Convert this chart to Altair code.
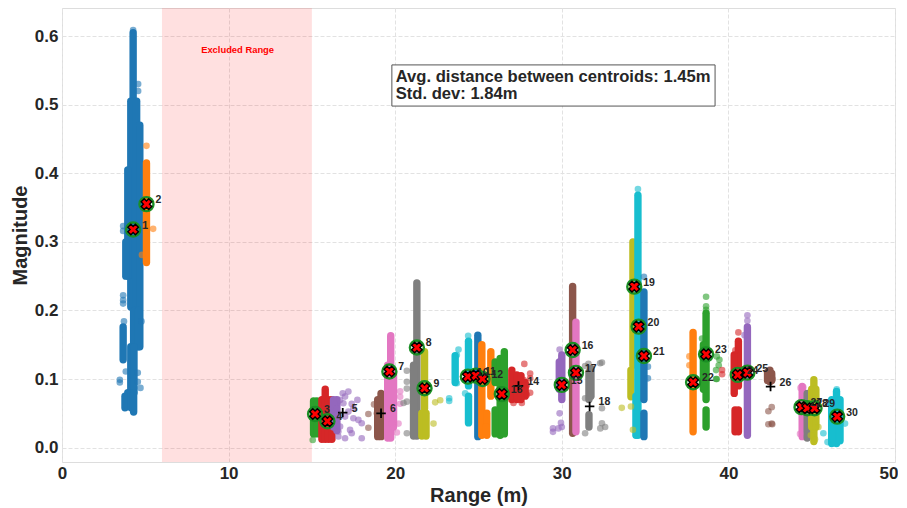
import altair as alt
import pandas as pd

palette = ["#1f77b4", "#ff7f0e", "#2ca02c", "#d62728", "#9467bd",
           "#8c564b", "#e377c2", "#7f7f7f", "#bcbd22", "#17becf"]

# dense vertical runs of points: (cluster, range, low magnitude, high magnitude)
segments = [
    (1, 4.27, .50, .605), (1, 4.13, .205, .505), (1, 4.30, .147, .505), (1, 4.48, .147, .505),
    (1, 4.67, .147, .47), (1, 3.95, .25, .405), (1, 3.83, .25, .30), (1, 4.35, .147, .20),
    (1, 4.59, .147, .20), (1, 3.67, .128, .176), (1, 4.13, .08, .147), (1, 4.32, .08, .147),
    (1, 3.78, .058, .075), (1, 3.95, .06, .08), (1, 4.15, .058, .08), (1, 4.30, .052, .08),
    (2, 5.07, .27, .415),
    (3, 15.1, .02, .068), (3, 15.3, .02, .068),
    (4, 15.6, .012, .07), (4, 15.8, .012, .085), (4, 16.0, .012, .07), (4, 16.2, .012, .07),
    (5, 16.5, .025, .07), (5, 16.3, .03, .07),
    (6, 19.15, .016, .079), (6, 18.95, .016, .07),
    (7, 19.73, .014, .163), (7, 19.55, .014, .12), (7, 19.9, .03, .11),
    (8, 21.3, .017, .24), (8, 21.1, .017, .12),
    (9, 21.76, .0574, .14), (9, 21.6, .017, .05), (9, 21.85, .017, .05),
    (10, 24.4, .09, .155), (10, 24.4, .036, .075), (10, 23.6, .095, .134),
    (11, 24.96, .016, .164),
    (12, 25.2, .018, .15), (12, 25.74, .075, .14), (12, 25.5, .018, .05), (12, 25.45, .02, .03),
    (13, 26.0, .095, .125), (13, 26.3, .018, .13), (13, 26.55, .02, .14), (13, 26.0, .02, .055),
    (14, 27.0, .07, .113), (14, 27.3, .07, .106), (14, 27.55, .07, .105), (14, 27.8, .075, .095),
    (15, 30.0, .07, .135), (15, 29.85, .085, .125),
    (16, 30.65, .021, .235),
    (17, 30.85, .023, .183),
    (18, 31.63, .03, .048), (18, 31.63, .07, .11), (18, 31.75, .075, .115),
    (19, 34.27, .12, .30), (19, 34.15, .074, .113),
    (20, 34.57, .018, .368), (20, 34.45, .018, .075),
    (21, 34.93, .07, .227), (21, 34.93, .016, .05),
    (22, 37.88, .023, .168),
    (23, 38.66, .07, .196), (23, 38.66, .03, .055), (23, 38.5, .085, .15),
    (24, 40.6, .09, .155), (24, 40.35, .079, .135), (24, 40.4, .023, .055), (24, 40.6, .023, .055),
    (25, 41.14, .018, .176),
    (26, 42.49, .096, .113), (26, 42.35, .098, .11), (26, 42.6, .098, .108),
    (27, 44.43, .016, .089),
    (28, 44.73, .014, .079),
    (29, 45.13, .009, .099), (29, 45.0, .03, .085), (29, 45.25, .03, .085),
    (30, 46.49, .006, .082), (30, 46.2, .006, .07), (30, 46.7, .01, .07),
]

# individual stray points: (cluster, range, magnitude)
strays = [
    (1, 3.67, .323), (1, 3.67, .316), (1, 3.67, .222), (1, 3.67, .215), (1, 3.67, .21), (1, 3.72, .184),
    (1, 3.47, .099), (1, 3.47, .095), (1, 4.77, .184), (1, 4.55, .109), (1, 4.55, .096), (1, 4.71, .087),
    (1, 3.83, .111), (1, 4.57, .53), (1, 4.57, .52), (1, 4.27, .609),
    (2, 5.07, .44), (2, 5.47, .319), (2, 4.8, .281),
    (3, 15.05, .011),
    (5, 17.19, .0817), (5, 16.85, .0792), (5, 16.99, .0744), (5, 16.69, .0695), (5, 17.73, .0695),
    (5, 17.39, .0637), (5, 16.89, .0647), (5, 16.49, .0574), (5, 16.99, .0452), (5, 17.49, .0428),
    (5, 17.79, .0404), (5, 17.99, .0355), (5, 16.59, .0234), (5, 17.29, .0258), (5, 17.39, .0209),
    (5, 16.99, .0136), (5, 16.59, .0161), (5, 17.99, .0136), (5, 17.49, .0574), (5, 17.19, .0525),
    (5, 16.39, .0355), (5, 16.69, .0307),
    (6, 18.39, .049), (6, 18.39, .029), (6, 18.73, .063), (6, 18.9, .05),
    (7, 20.3, .082), (7, 20.3, .074), (7, 20.3, .064), (7, 20.2, .035), (7, 20.1, .022), (7, 19.8, .035),
    (8, 20.7, .112), (8, 20.7, .096), (8, 20.7, .086), (8, 20.7, .067), (8, 20.5, .065), (8, 20.7, .021),
    (9, 22.4, .066), (9, 22.7, .069), (9, 22.3, .035),
    (10, 23.24, .072), (10, 23.24, .068), (10, 24.38, .163), (10, 23.8, .143), (10, 23.7, .135),
    (10, 23.7, .094), (10, 24.2, .079),
    (14, 27.75, .122), (14, 28.1, .108), (14, 28.1, .08), (14, 27.9, .077), (14, 27.6, .065), (14, 27.1, .065),
    (14, 28.1, .101), (14, 27.9, .091), (14, 27.7, .099),
    (15, 29.87, .143), (15, 29.87, .05), (15, 29.95, .036), (15, 30.0, .03), (15, 29.47, .028), (15, 29.47, .023),
    (15, 29.8, .028),
    (18, 31.4, .119), (18, 31.6, .122), (18, 31.4, .072), (18, 31.4, .021), (18, 32.3, .123), (18, 32.41, .124),
    (18, 32.41, .0574), (18, 32.41, .0355), (18, 32.6, .03), (18, 32.31, .028),
    (19, 33.6, .058), (19, 34.15, .06), (19, 34.27, .026),
    (20, 34.57, .377),
    (21, 34.93, .249), (21, 35.17, .118), (21, 35.17, .101),
    (22, 37.66, .133), (22, 37.66, .12),
    (23, 38.66, .22), (23, 38.66, .206), (23, 38.66, .201), (23, 38.42, .159), (23, 39.3, .133),
    (23, 39.46, .128), (23, 39.42, .12), (23, 39.26, .113), (23, 39.26, .1), (23, 39.3, .1),
    (24, 40.6, .168), (24, 40.42, .142), (24, 39.62, .113), (24, 39.62, .107),
    (25, 41.14, .193), (25, 41.14, .185), (25, 40.97, .164),
    (26, 42.4, .053), (26, 42.6, .059), (26, 42.4, .034), (26, 42.6, .035), (26, 42.63, .034),
    (26, 42.35, .105), (26, 42.65, .1),
    (27, 44.33, .087), (27, 44.5, .088), (27, 44.3, .02),
    (29, 45.4, .03), (29, 44.95, .018), (29, 45.2, .012),
    (30, 47.0, .035), (30, 45.95, .008), (30, 45.7, .021), (30, 46.5, .085),
]

centroid_id = list(range(1, 31))
centroid_x = [4.27, 5.07, 15.19, 15.93, 16.85, 19.15, 19.65, 21.3, 21.76, 24.36,
              24.84, 25.24, 26.4, 27.4, 30.0, 30.65, 30.85, 31.67, 34.35, 34.61,
              34.93, 37.88, 38.66, 40.56, 41.14, 42.53, 44.39, 44.73, 45.17, 46.53]
centroid_y = [.318, .355, .049, .0384, .051, .05, .111, .146, .0865, .1035,
              .105, .1, .078, .09, .0914, .1424, .109, .06, .2347, .1764,
              .1336, .0953, .136, .106, .1093, .089, .059, .0574, .0574, .0452]
centroid_kept = [True, True, True, True, False, False, True, True, True, True,
                 True, True, True, False, True, True, True, False, True, True,
                 True, True, True, True, True, False, True, True, True, True]

stat_lines = ["Avg. distance between centroids: 1.45m", "Std. dev: 1.84m"]
stat_y = [.540, .515]

FONT = "Liberation Sans"
INK = "#262626"

seg_df = pd.DataFrame(segments, columns=["c", "x", "lo", "hi"])
seg_df["col"] = (seg_df["c"] - 1) % 10
stray_df = pd.DataFrame(strays, columns=["c", "x", "y"])
stray_df["col"] = (stray_df["c"] - 1) % 10
cen = pd.DataFrame({"id": centroid_id, "x": centroid_x, "y": centroid_y, "kept": centroid_kept})
cen["label"] = cen["id"].astype(str)

xs = alt.Scale(domain=[0, 50], nice=False, zero=False)
ys = alt.Scale(domain=[-0.021, 0.641], nice=False, zero=False)
cs = alt.Scale(domain=list(range(10)), range=palette)

x_axis = alt.Axis(title="Range (m)", values=[0, 10, 20, 30, 40, 50], format="d", grid=True, ticks=False,
                  labelFont=FONT, labelFontWeight="bold", labelFontSize=17, labelColor=INK, labelPadding=3,
                  labelFlush=False,
                  labelAlign={"condition": {"test": "datum.value == 50", "value": "right"}, "value": "center"},
                  labelOffset={"condition": {"test": "datum.value == 50", "value": 3}, "value": 0},
                  titleFont=FONT, titleFontWeight="bold", titleFontSize=20, titleColor=INK, titlePadding=4,
                  gridColor="#e2e2e2", gridDash=[4, 2], gridWidth=1, domain=False)
y_axis = alt.Axis(title="Magnitude", values=[0, .1, .2, .3, .4, .5, .6], format=".1f", grid=True, ticks=False,
                  labelFont=FONT, labelFontWeight="bold", labelFontSize=17, labelColor=INK, labelPadding=4,
                  titleFont=FONT, titleFontWeight="bold", titleFontSize=20, titleColor=INK, titlePadding=4,
                  gridColor="#e2e2e2", gridDash=[4, 2], gridWidth=1, domain=False)

band = alt.Chart(pd.DataFrame({"a": [6], "b": [15]})).mark_rect(color="#ff0000", opacity=0.12).encode(
    x=alt.X("a:Q", scale=xs, axis=x_axis), x2="b:Q")

band_text = alt.Chart(pd.DataFrame({"x": [10.54], "y": [.58], "t": ["Excluded Range"]})).mark_text(
    font=FONT, fontWeight="bold", fontSize=9.4, color="#ff0000").encode(
    x=alt.X("x:Q", scale=xs), y=alt.Y("y:Q", scale=ys, axis=y_axis), text="t:N")

runs = alt.Chart(seg_df).mark_rule(strokeWidth=7.4, strokeCap="round").encode(
    x=alt.X("x:Q", scale=xs), y=alt.Y("lo:Q", scale=ys), y2="hi:Q",
    color=alt.Color("col:N", scale=cs, legend=None))

dots = alt.Chart(stray_df).mark_circle(size=44, opacity=0.6).encode(
    x=alt.X("x:Q", scale=xs), y=alt.Y("y:Q", scale=ys),
    color=alt.Color("col:N", scale=cs, legend=None))

kept = cen[cen["kept"]]
rest = cen[~cen["kept"]]

rings = alt.Chart(kept).mark_point(size=196, color="#1a8f24", filled=False, strokeWidth=2.4, opacity=1).encode(
    x=alt.X("x:Q", scale=xs), y=alt.Y("y:Q", scale=ys))
crosses = alt.Chart(kept).mark_point(shape="cross", angle=45, filled=True, size=115, color="#ff0000",
                                     stroke="#000000", strokeWidth=1.4, opacity=1).encode(
    x=alt.X("x:Q", scale=xs), y=alt.Y("y:Q", scale=ys))
plus = alt.Chart(rest).mark_point(shape="M-1,0L1,0M0,-1L0,1", size=90, color="#000000",
                                  strokeWidth=1.8, opacity=1).encode(
    x=alt.X("x:Q", scale=xs), y=alt.Y("y:Q", scale=ys))
labels = alt.Chart(cen).mark_text(font=FONT, fontWeight="bold", fontSize=10.5, color=INK, align="left",
                                  baseline="middle", dx=9, dy=-4).encode(
    x=alt.X("x:Q", scale=xs), y=alt.Y("y:Q", scale=ys), text="label:N")

box = alt.Chart(pd.DataFrame({"a": [19.8], "b": [39.2], "lo": [.498], "hi": [.558]})).mark_rect(
    fill="#ffffff", stroke="#555555", strokeWidth=1).encode(
    x=alt.X("a:Q", scale=xs), x2="b:Q", y=alt.Y("lo:Q", scale=ys), y2="hi:Q")
box_text = alt.Chart(pd.DataFrame({"x": [20.03, 20.03], "y": stat_y, "t": stat_lines})).mark_text(
    font=FONT, fontWeight="bold", fontSize=16.6, color=INK, align="left", baseline="middle").encode(
    x=alt.X("x:Q", scale=xs), y=alt.Y("y:Q", scale=ys), text="t:N")

chart = alt.layer(band, band_text, runs, dots, rings, crosses, plus, labels, box, box_text).resolve_scale(
    color="independent"
).properties(
    width=833, height=454,
    autosize=alt.AutoSizeParams(type="none"),
    padding={"left": 54, "top": 0, "right": 3, "bottom": 46},
).configure_view(stroke="#cccccc", strokeWidth=1.5).configure(background="#ffffff")

chart.save("out.html", embed_options={"renderer": "svg", "actions": False})
